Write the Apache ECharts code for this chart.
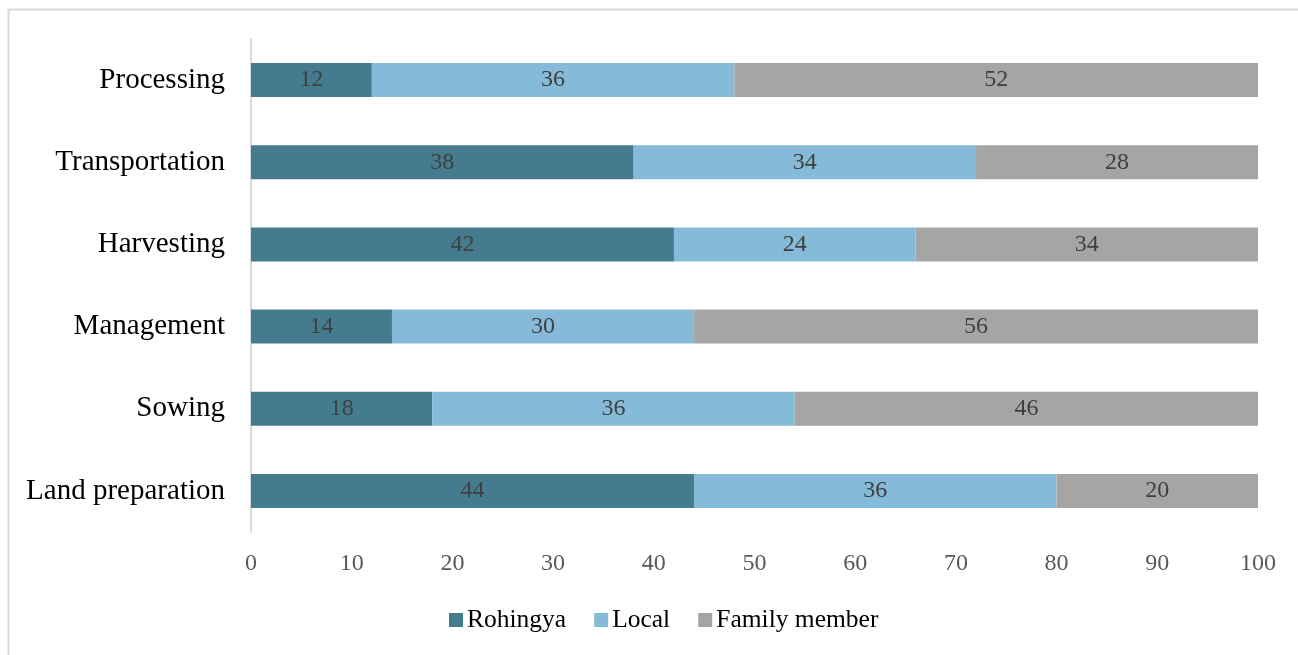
<!DOCTYPE html>
<html><head><meta charset="utf-8">
<script src="https://cdn.jsdelivr.net/npm/echarts@6/dist/echarts.min.js"></script>
<style>html,body{margin:0;padding:0;background:#fff}#c{width:1298px;height:655px}</style>
</head><body><div id="c"></div>
<script>
const categories = ['Land preparation','Sowing','Management','Harvesting','Transportation','Processing'];
const rohingya = [44,18,14,42,38,12];
const local = [36,36,30,24,34,36];
const family = [20,46,56,34,28,52];
const xTicks = [0,10,20,30,40,50,60,70,80,90,100];
const FONT = '"Liberation Serif", "DejaVu Serif", serif';
const chart = echarts.init(document.getElementById('c'));
function s(name, data, color){
  return {name, type:'bar', stack:'t', data, barWidth:34,
    itemStyle:{color},
    label:{show:true, position:'inside', color:'#404040', fontFamily:FONT, fontSize:24},
    emphasis:{disabled:true}};
}
chart.setOption({
  animation:false,
  graphic:[{type:'rect', shape:{x:8.5,y:9.5,width:1300,height:660}, style:{fill:'none', stroke:'#d9d9d9', lineWidth:2}}],
  grid:{left:251, right:40, top:39, bottom:123, containLabel:false},
  xAxis:{type:'value', min:0, max:100, interval:10,
    axisLine:{show:false}, axisTick:{show:false}, splitLine:{show:false},
    axisLabel:{color:'#595959', fontFamily:FONT, fontSize:24, margin:20,
      formatter:v=>xTicks.includes(v)?String(v):''}},
  yAxis:{type:'category', data:categories,
    axisLine:{show:true, lineStyle:{color:'#d9d9d9', width:2}}, axisTick:{show:false},
    axisLabel:{color:'#000', fontFamily:FONT, fontSize:29, margin:26}},
  legend:{bottom:17, left:444, itemWidth:14, itemHeight:14, itemGap:28,
    icon:'rect', textStyle:{color:'#000', fontFamily:FONT, fontSize:25.5, padding:[0,0,0,-1]},
    data:['Rohingya','Local','Family member']},
  series:[s('Rohingya',rohingya,'#457b8f'), s('Local',local,'#85bbd8'), s('Family member',family,'#a5a5a5')]
});
</script></body></html>
